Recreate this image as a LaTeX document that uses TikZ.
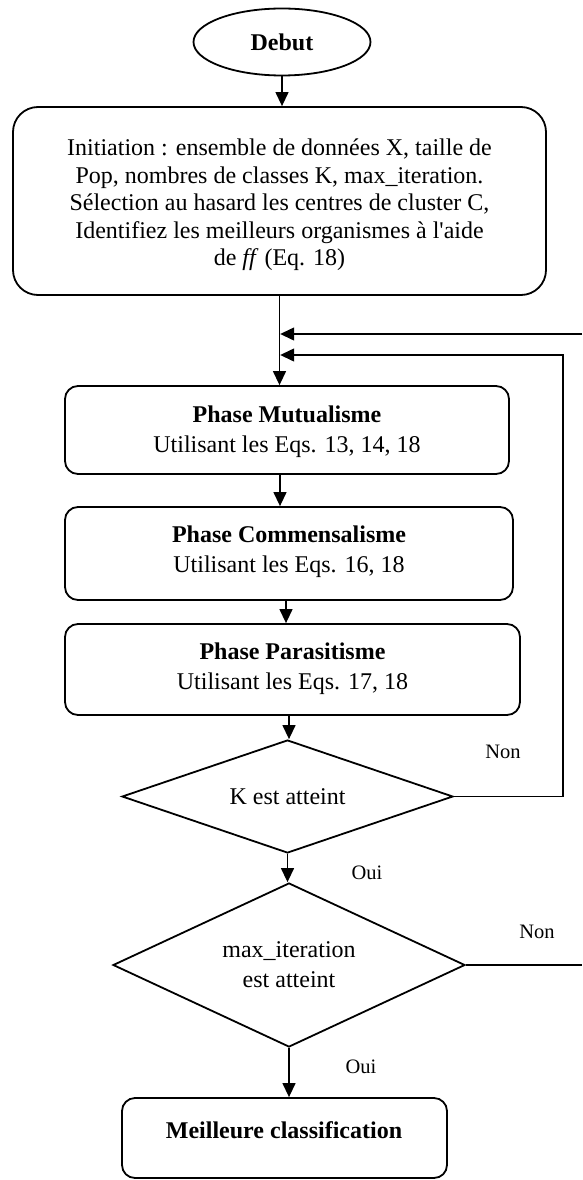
\documentclass[tikz,border=0pt]{standalone}
\usepackage{fontspec}
\setmainfont{Liberation Serif}
\usetikzlibrary{shapes.geometric,arrows.meta}
\begin{document}
\begin{tikzpicture}[x=1pt,y=-1pt,
  box/.style={draw,line width=1.8pt,rounded corners=13pt,inner sep=0pt},
  txt/.style={font=\fontsize{24}{30}\selectfont,align=center,inner sep=0pt},
  lbl/.style={font=\fontsize{20.5}{24}\selectfont,inner sep=0pt},
  dec/.style={draw,diamond,line width=1.8pt,inner sep=0pt,
              font=\fontsize{24}{30}\selectfont,align=center},
  link/.style={line width=1.3pt},
  arr/.style={link,-{Triangle[length=14pt,width=13pt]}},
]
\useasboundingbox (0,0) rectangle (582,1180);

% start
\node[draw,ellipse,line width=1.8pt,minimum width=177pt,minimum height=67pt,
      inner sep=0pt,font=\bfseries\fontsize{24}{28}\selectfont] (start) at (282,42) {Debut};

% initialisation
\node[box,rounded corners=25pt,minimum width=533pt,minimum height=188pt] (init) at (279.5,201) {};
\node[txt,font=\fontsize{24}{27.5}\selectfont] (inittxt) at (279.5,205)
  {Initiation : ensemble de données X, taille de\\
   Pop, nombres de classes K, max\_iteration.\\
   Sélection au hasard les centres de cluster C,\\
   Identifiez les meilleurs organismes à l\textquotesingle aide\\
   de \textit{ff} (Eq. 18)};

% the three phases
\node[box,minimum width=444pt,minimum height=88pt] (p1) at (287,430) {};
\node[txt] (p1txt) at (287,432) {\textbf{Phase Mutualisme}\\Utilisant les Eqs. 13, 14, 18};
\node[box,minimum width=448pt,minimum height=93pt] (p2) at (289,553.5) {};
\node[txt] (p2txt) at (289,552) {\textbf{Phase Commensalisme}\\Utilisant les Eqs. 16, 18};
\node[box,minimum width=455pt,minimum height=91pt] (p3) at (292.5,669.5) {};
\node[txt] (p3txt) at (292.5,669) {\textbf{Phase Parasitisme}\\Utilisant les Eqs. 17, 18};

% tests
\node[dec,aspect=2.93,minimum width=331pt,minimum height=113pt] (d1) at (287.5,796.5) {K est atteint};
\node[dec,aspect=2.146,minimum width=352pt,minimum height=164pt] (d2) at (289,965)
  {max\_iteration\\est atteint};

% result
\node[box,minimum width=325pt,minimum height=80pt] (fin) at (284.5,1138) {};
\node[txt,font=\bfseries\fontsize{24}{30}\selectfont] (fintxt) at (284,1130) {Meilleure classification};

% labels
\node[lbl] (non1) at (503,752) {Non};
\node[lbl] (non2) at (537,932) {Non};
\node[lbl] (oui1) at (367,873) {Oui};
\node[lbl] (oui2) at (361,1067) {Oui};

% main flow
\draw[arr] (start.south) -- (start.south |- init.north);
\draw[arr] (init.south) -- (init.south |- p1.north);
\draw[arr] ([xshift=-7pt]p1.south) -- ([xshift=-7pt]p1.south |- p2.north);
\draw[arr] ([xshift=-3pt]p2.south) -- ([xshift=-3pt]p2.south |- p3.north);
\draw[arr] ([xshift=-3.5pt]p3.south) -- ([xshift=-3.5pt]p3.south |- d1.north);
\draw[arr] (d1.south) -- (d1.south |- d2.north);
\draw[arr] (d2.south) -- (d2.south |- fin.north);

% loop back when K is not reached
\coordinate (loopK) at (563,355);
\draw[arr] (d1.east) -| (loopK) -- ([xshift=0.7pt]loopK -| init.south);

% loop back when max_iteration is not reached
\coordinate (edgeR) at (582,965);
\coordinate (edgeT) at (582,334);
\draw[link] (d2.east) -- (edgeR);
\draw[arr] (edgeT) -- ([xshift=0.7pt]edgeT -| init.south);
\end{tikzpicture}
\end{document}
